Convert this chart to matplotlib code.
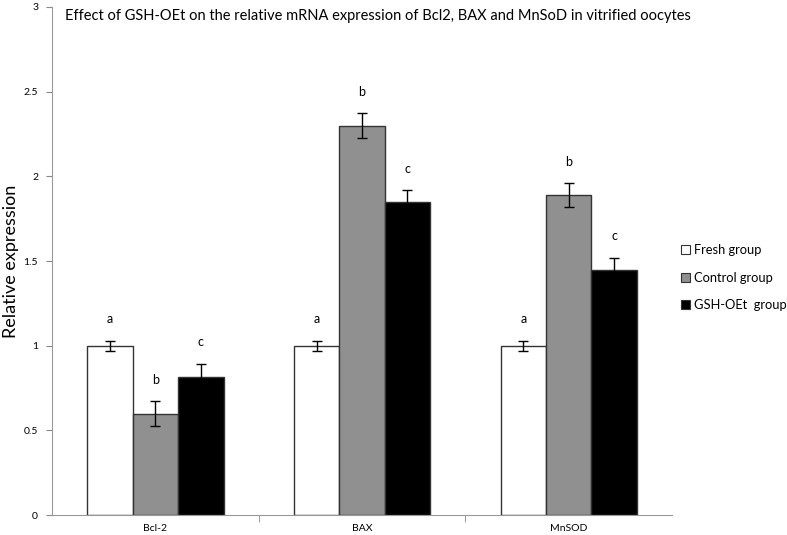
import numpy as np
import matplotlib
matplotlib.use('Agg')
import matplotlib.pyplot as plt
from matplotlib.patches import Patch

plt.rcParams['font.family'] = ['Lato', 'DejaVu Sans']

genes = ['Bcl-2', 'BAX', 'MnSOD']
groups = ['Fresh group', 'Control group', 'GSH-OEt  group']
colors = ['white', '#909090', 'black']

# mean relative expression per group, one list per gene order
fresh = [1.0, 1.0, 1.0]
control = [0.60, 2.30, 1.89]
gsh = [0.815, 1.85, 1.45]
fresh_err = [0.03, 0.03, 0.03]
control_err = [0.075, 0.075, 0.07]
gsh_err = [0.08, 0.07, 0.07]
letters = [['a', 'a', 'a'], ['b', 'b', 'b'], ['c', 'c', 'c']]

fig = plt.figure(figsize=(7.87, 5.35), dpi=100)
ax = fig.add_axes([0.066, 0.037, 0.788, 0.95])

x = np.arange(len(genes))
w = 0.22
series = [(fresh, fresh_err), (control, control_err), (gsh, gsh_err)]
for i, (vals, errs) in enumerate(series):
    pos = x + (i - 1) * w
    ax.bar(pos, vals, width=w, color=colors[i], edgecolor='#333333', linewidth=1.0, zorder=2)
    ax.errorbar(pos, vals, yerr=errs, fmt='none', ecolor='black', elinewidth=1.0,
                capsize=3.5, capthick=1.0, zorder=3)
    for p, v, e, lab in zip(pos, vals, errs, letters[i]):
        ax.text(p, v + e + 0.09, lab, ha='center', va='bottom', fontsize=9)

ax.set_xlim(-0.5, 2.5)
ax.set_ylim(0, 3)
ax.set_yticks([0, 0.5, 1, 1.5, 2, 2.5, 3])
ax.set_yticklabels(['0', '0.5', '1', '1.5', '2', '2.5', '3'])
ax.set_xticks(x)
ax.set_xticklabels(genes)
ax.set_xticks([0.5, 1.5], minor=True)
ax.tick_params(axis='x', which='major', length=0, labelsize=7.5, pad=6)
ax.tick_params(axis='x', which='minor', length=5, color='#888888')
ax.tick_params(axis='y', length=4, color='#888888', labelsize=7.5, pad=6)
for s in ['top', 'right']:
    ax.spines[s].set_visible(False)
for s in ['left', 'bottom']:
    ax.spines[s].set_color('#999999')

ax.set_ylabel('Relative expression', fontsize=13, labelpad=3)
fig.text(0.083, 0.984, 'Effect of GSH-OEt on the relative mRNA expression of Bcl2, BAX and MnSoD in vitrified oocytes',
         fontsize=10.5, ha='left', va='top')

handles = [Patch(facecolor=c, edgecolor='#333333', linewidth=0.8) for c in colors]
fig.legend(handles, groups, loc='upper left', bbox_to_anchor=(0.851, 0.565), frameon=False,
           fontsize=9.3, handlelength=0.7, handleheight=0.7, handletextpad=0.25, labelspacing=1.2)

fig.savefig('out.png', dpi=100)
